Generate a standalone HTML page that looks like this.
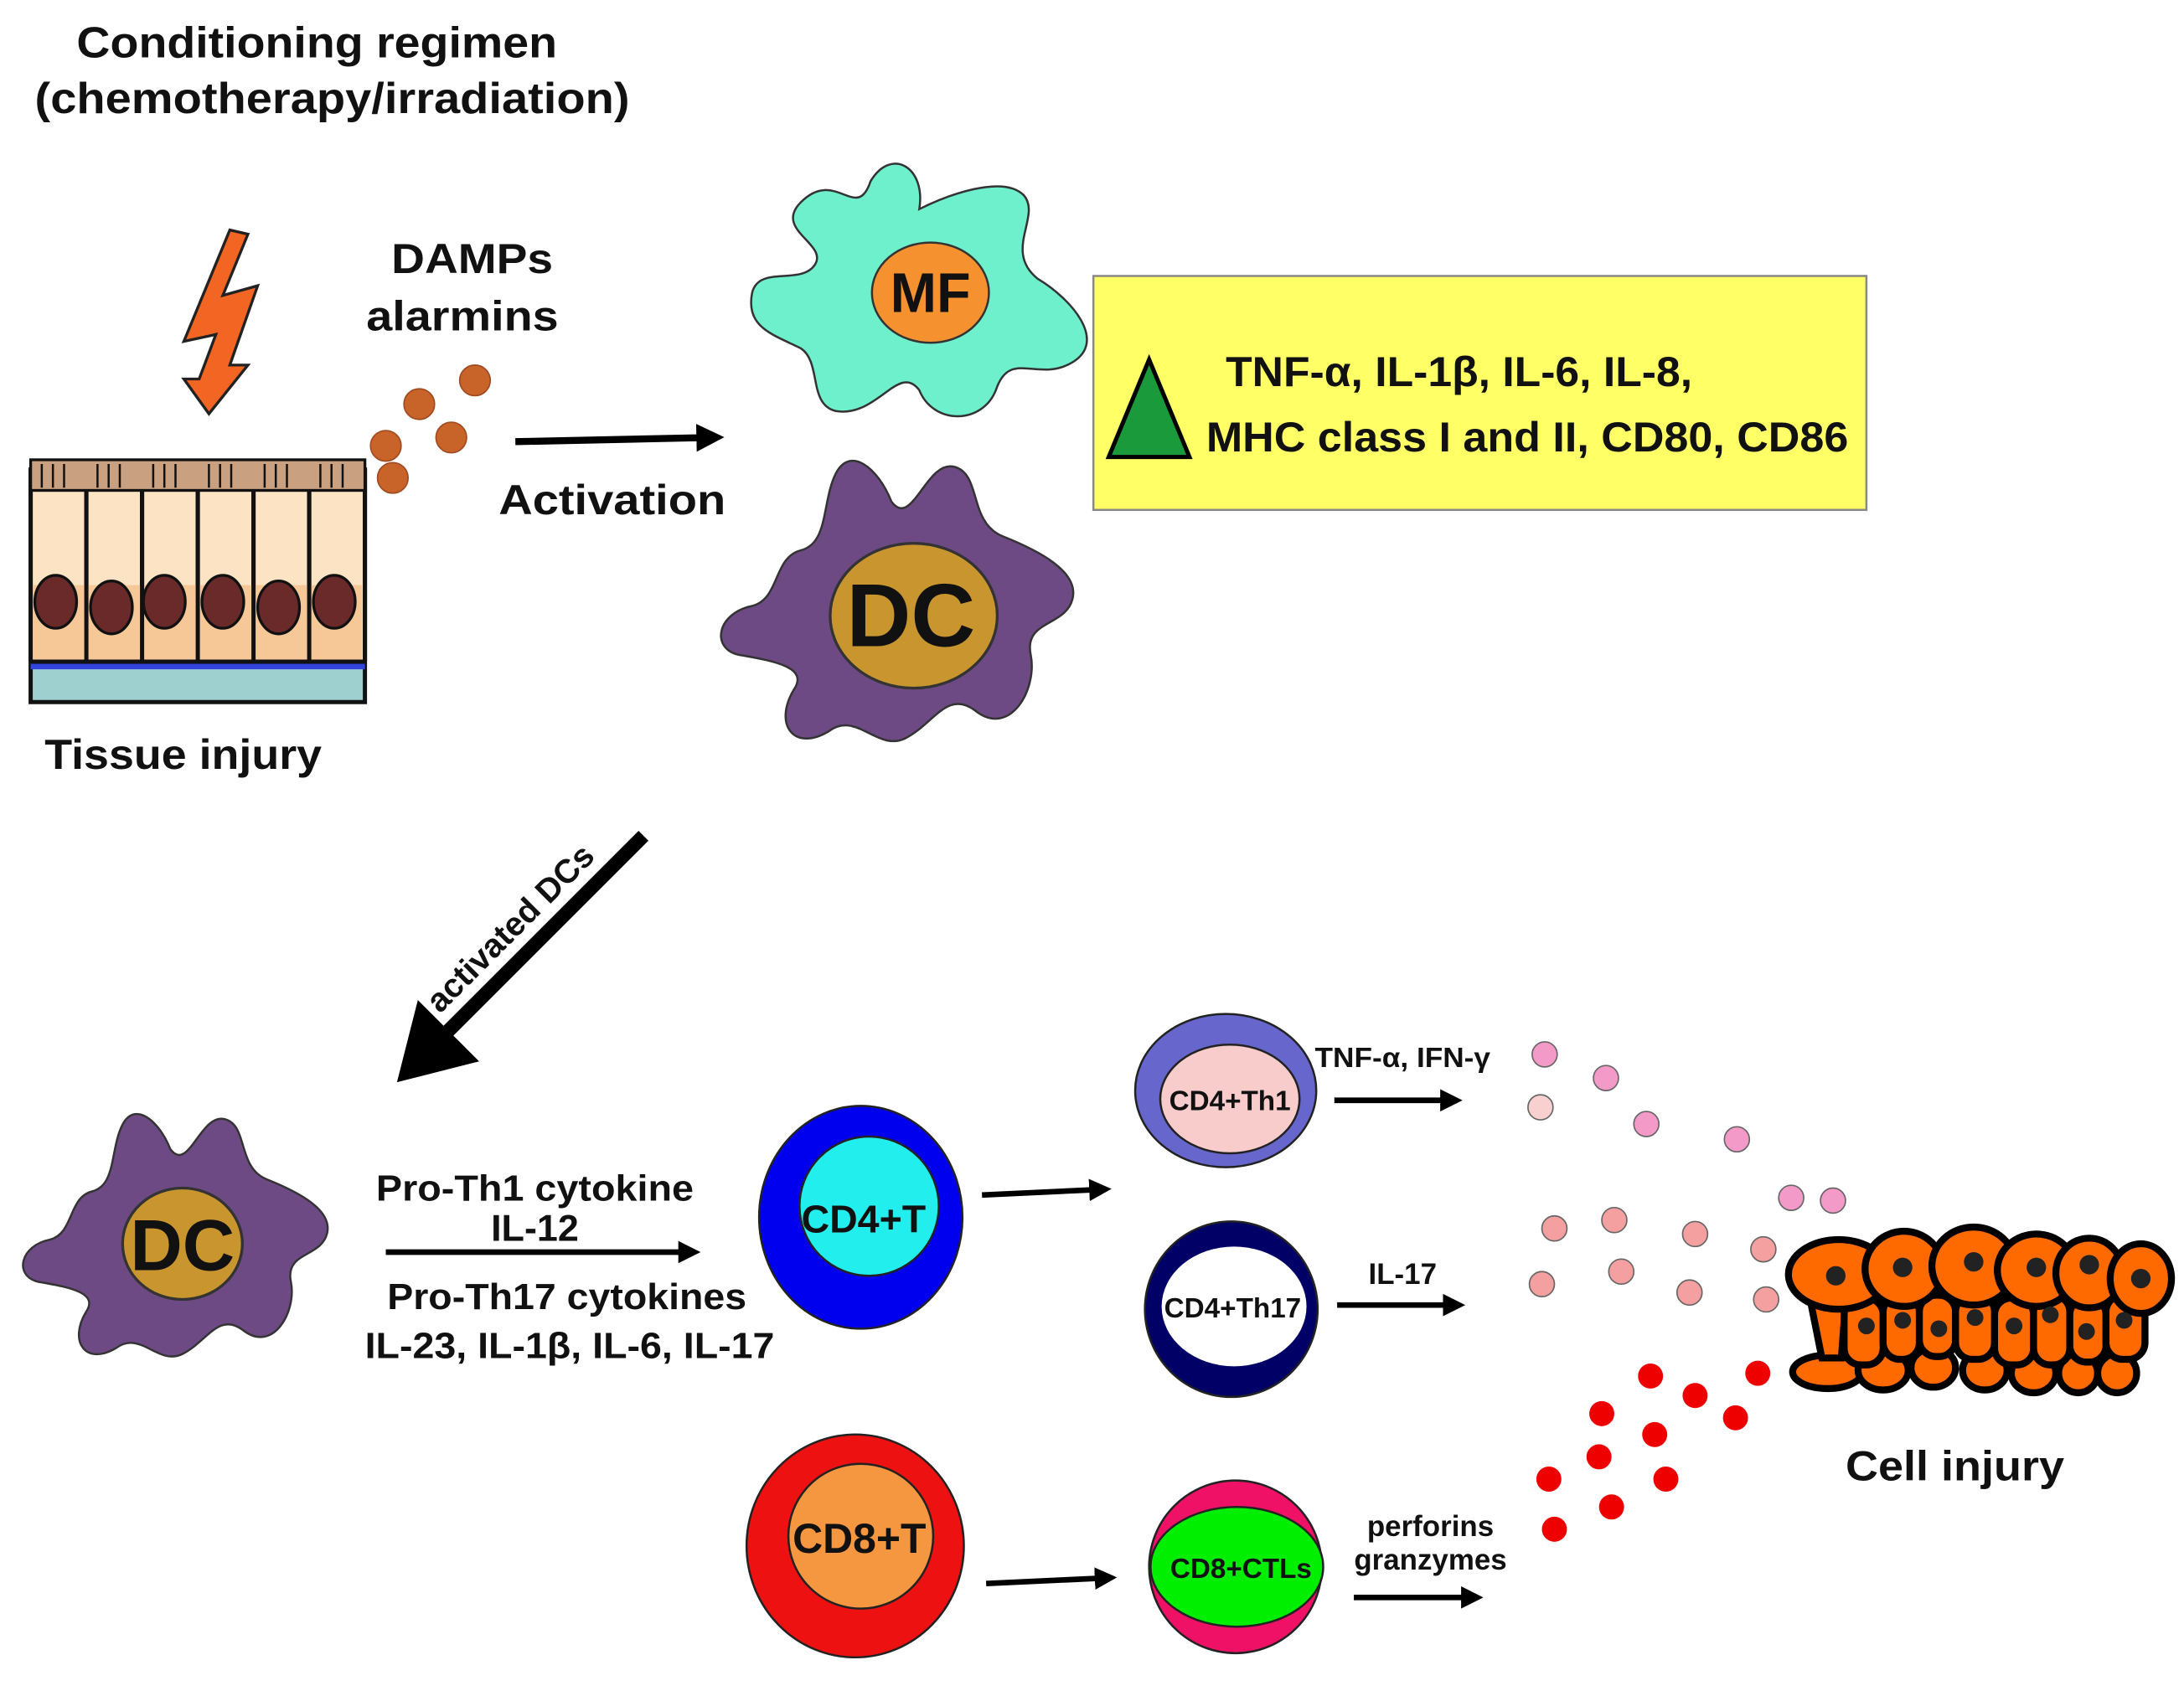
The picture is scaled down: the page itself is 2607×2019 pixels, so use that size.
<!DOCTYPE html>
<html><head><meta charset="utf-8"><style>html,body{margin:0;padding:0;background:#fff}svg{display:block}text{font-family:"Liberation Sans",Arial,sans-serif;font-weight:bold;fill:#111}</style></head>
<body>
<svg width="2607" height="2019" viewBox="0 0 1568 1214" xmlns="http://www.w3.org/2000/svg">
<defs>
<marker id="ah" markerWidth="4" markerHeight="4" refX="2" refY="2" orient="auto" markerUnits="strokeWidth"><path d="M0,0 L4,2 L0,4 Z" fill="#000"/></marker>
<path id="dcb" d="M600,340 C610,320 630,335 640,360 C655,380 665,330 685,335 C705,340 695,375 720,385 C745,395 775,410 770,430 C765,450 735,445 740,470 C745,495 725,530 700,510 C680,495 670,520 650,530 C630,540 615,510 595,525 C570,540 555,520 570,495 C580,480 560,475 530,470 C510,465 515,440 540,435 C560,430 555,400 575,395 C595,390 590,360 600,340 Z"/>
</defs>
<text x="55" y="41" font-size="31" textLength="345" lengthAdjust="spacingAndGlyphs">Conditioning regimen</text>
<text x="25" y="81" font-size="31" textLength="427" lengthAdjust="spacingAndGlyphs">(chemotherapy/irradiation)</text>
<path d="M165,165 L132,245 L155,240 L143,272 L132,272 L150,297 L178,262 L165,262 L185,205 L160,212 L178,168 Z" fill="#f26522" stroke="#222" stroke-width="2"/>
<text x="281" y="196" font-size="30" textLength="116" lengthAdjust="spacingAndGlyphs">DAMPs</text>
<text x="263" y="237" font-size="30" textLength="138" lengthAdjust="spacingAndGlyphs">alarmins</text>
<g fill="#c8642a" stroke="#a04a20" stroke-width="1"><circle cx="341" cy="273" r="11"/><circle cx="301" cy="290" r="11"/><circle cx="324" cy="314" r="11"/><circle cx="277" cy="320" r="11"/><circle cx="282" cy="343" r="11"/></g>
<!-- tissue -->
<g stroke="#111" stroke-width="3">
<rect x="22" y="478" width="240" height="26" fill="#9fd0d0"/>
<line x1="22" y1="478" x2="262" y2="478" stroke="#3344dd" stroke-width="5"/>
<g fill="#fbe3c4">
<rect x="22" y="337" width="40" height="138"/><rect x="62" y="337" width="40" height="138"/><rect x="102" y="337" width="40" height="138"/><rect x="142" y="337" width="40" height="138"/><rect x="182" y="337" width="40" height="138"/><rect x="222" y="337" width="40" height="138"/>
</g>
<g fill="#f6c898" stroke="none"><rect x="24" y="420" width="236" height="55"/></g>
<g fill="none" stroke-width="3"><path d="M22,337V475M62,337V475M102,337V475M142,337V475M182,337V475M222,337V475M262,337V475M22,475H262"/></g>
<g fill="#6b2a2a" stroke-width="2"><ellipse cx="40" cy="432" rx="15" ry="19"/><ellipse cx="80" cy="436" rx="15" ry="19"/><ellipse cx="118" cy="432" rx="15" ry="19"/><ellipse cx="160" cy="432" rx="15" ry="19"/><ellipse cx="200" cy="436" rx="15" ry="19"/><ellipse cx="240" cy="432" rx="15" ry="19"/></g>
<rect x="22" y="330" width="240" height="22" fill="#c9a080" stroke-width="2"/>
<path d="M30,333V350M38,333V350M46,333V350M70,333V350M78,333V350M86,333V350M110,333V350M118,333V350M126,333V350M150,333V350M158,333V350M166,333V350M190,333V350M198,333V350M206,333V350M230,333V350M238,333V350M246,333V350" stroke-width="1.5"/>
</g>
<text x="32" y="552" font-size="30" textLength="199" lengthAdjust="spacingAndGlyphs">Tissue injury</text>
<line x1="370" y1="317" x2="510" y2="314" stroke="#000" stroke-width="5" marker-end="url(#ah)"/>
<text x="358" y="369" font-size="30" textLength="163" lengthAdjust="spacingAndGlyphs">Activation</text>
<!-- MF -->
<path d="M575,145 C600,120 615,160 625,130 C640,105 665,120 660,150 C680,140 720,125 735,140 C748,155 720,180 745,200 C770,215 795,245 770,260 C745,275 725,250 715,280 C705,305 670,305 660,280 C645,260 630,300 600,295 C580,290 590,260 575,250 C555,240 535,235 540,210 C545,190 575,205 585,190 C595,175 555,165 575,145 Z" fill="#6ef0cc" stroke="#333" stroke-width="1.5"/>
<ellipse cx="668" cy="210" rx="42" ry="36" fill="#f5922f" stroke="#333" stroke-width="1.5"/>
<text x="668" y="224" font-size="40" text-anchor="middle">MF</text>
<!-- DC top -->
<use href="#dcb" fill="#6e4a84" stroke="#333" stroke-width="1.5"/>
<ellipse cx="656" cy="442" rx="60" ry="52" fill="#c9952f" stroke="#333" stroke-width="2"/>
<text x="654" y="464" font-size="64" text-anchor="middle">DC</text>
<!-- yellow box -->
<rect x="785" y="198" width="555" height="168" fill="#ffff66" stroke="#888" stroke-width="1.5"/>
<path d="M796,328 L825,258 L854,328 Z" fill="#1a9a3a" stroke="#000" stroke-width="3"/>
<text x="880" y="277" font-size="30" textLength="335" lengthAdjust="spacingAndGlyphs">TNF-α, IL-1β, IL-6, IL-8,</text>
<text x="866" y="324" font-size="30" textLength="461" lengthAdjust="spacingAndGlyphs">MHC class I and II, CD80, CD86</text>
<!-- activated DCs arrow -->
<line x1="462" y1="600" x2="312" y2="750" stroke="#000" stroke-width="10"/>
<path d="M285,777 L300,718 L344,762 Z" fill="#000"/>
<text x="0" y="0" font-size="24" text-anchor="middle" transform="translate(372,672) rotate(-45)">activated DCs</text>
<!-- DC bottom -->
<use href="#dcb" fill="#6e4a84" stroke="#333" stroke-width="1.7" transform="translate(131,890) scale(0.865) translate(-650,-435)"/>
<ellipse cx="131" cy="893" rx="43" ry="40" fill="#c9952f" stroke="#333" stroke-width="2"/>
<text x="131" y="912" font-size="52" text-anchor="middle">DC</text>
<text x="270" y="862" font-size="26" textLength="228" lengthAdjust="spacingAndGlyphs">Pro-Th1 cytokine</text>
<text x="384" y="891" font-size="27" text-anchor="middle">IL-12</text>
<line x1="277" y1="899" x2="495" y2="899" stroke="#000" stroke-width="4" marker-end="url(#ah)"/>
<text x="278" y="940" font-size="26" textLength="258" lengthAdjust="spacingAndGlyphs">Pro-Th17 cytokines</text>
<text x="262" y="975" font-size="26" textLength="294" lengthAdjust="spacingAndGlyphs">IL-23, IL-1β, IL-6, IL-17</text>
<!-- CD4+T -->
<ellipse cx="618" cy="874" rx="73" ry="80" fill="#0000ee" stroke="#222" stroke-width="1.5"/>
<ellipse cx="624" cy="866" rx="50" ry="50" fill="#22eeee" stroke="#222" stroke-width="1.5"/>
<text x="620" y="885" font-size="28" text-anchor="middle">CD4+T</text>
<line x1="705" y1="858" x2="790" y2="854" stroke="#000" stroke-width="4" marker-end="url(#ah)"/>
<!-- Th1 -->
<ellipse cx="880" cy="783" rx="65" ry="55" fill="#6666cc" stroke="#222" stroke-width="1.5"/>
<ellipse cx="883" cy="789" rx="50" ry="39" fill="#f9cccc" stroke="#222" stroke-width="1.5"/>
<text x="883" y="797" font-size="20" text-anchor="middle">CD4+Th1</text>
<line x1="958" y1="790" x2="1042" y2="790" stroke="#000" stroke-width="4" marker-end="url(#ah)"/>
<text x="944" y="766" font-size="20" textLength="126" lengthAdjust="spacingAndGlyphs">TNF-α, IFN-γ</text>
<!-- Th17 -->
<ellipse cx="884" cy="940" rx="62" ry="63" fill="#000066" stroke="#222" stroke-width="1.5"/>
<ellipse cx="886" cy="938" rx="52" ry="43" fill="#fff"/>
<text x="885" y="946" font-size="20" text-anchor="middle">CD4+Th17</text>
<line x1="960" y1="937" x2="1044" y2="937" stroke="#000" stroke-width="4" marker-end="url(#ah)"/>
<text x="1007" y="922" font-size="21" text-anchor="middle">IL-17</text>
<!-- CD8+T -->
<ellipse cx="614" cy="1110" rx="78" ry="80" fill="#ee1111" stroke="#222" stroke-width="1.5"/>
<ellipse cx="618" cy="1103" rx="52" ry="52" fill="#f59640" stroke="#222" stroke-width="1.5"/>
<text x="617" y="1115" font-size="30" text-anchor="middle">CD8+T</text>
<line x1="708" y1="1137" x2="794" y2="1133" stroke="#000" stroke-width="4" marker-end="url(#ah)"/>
<!-- CTL -->
<ellipse cx="887" cy="1125" rx="62" ry="62" fill="#ee1166" stroke="#222" stroke-width="1.5"/>
<ellipse cx="888" cy="1125" rx="62" ry="43" fill="#00ee00" stroke="#222" stroke-width="1.5"/>
<text x="891" y="1133" font-size="20" text-anchor="middle">CD8+CTLs</text>
<text x="1027" y="1103" font-size="21" text-anchor="middle">perforins</text>
<text x="1027" y="1127" font-size="21" text-anchor="middle">granzymes</text>
<line x1="972" y1="1147" x2="1057" y2="1147" stroke="#000" stroke-width="4" marker-end="url(#ah)"/>
<!-- dots -->
<g stroke="#666" stroke-width="1">
<g fill="#f49ac8"><circle cx="1109" cy="757" r="9"/><circle cx="1153" cy="774" r="9"/><circle cx="1182" cy="807" r="9"/><circle cx="1247" cy="818" r="9"/><circle cx="1286" cy="860" r="9"/><circle cx="1316" cy="862" r="9"/></g>
<circle cx="1106" cy="795" r="9" fill="#f9d0d0"/>
<g fill="#f4a0a0"><circle cx="1116" cy="882" r="9"/><circle cx="1159" cy="876" r="9"/><circle cx="1217" cy="886" r="9"/><circle cx="1266" cy="897" r="9"/><circle cx="1107" cy="922" r="9"/><circle cx="1164" cy="913" r="9"/><circle cx="1213" cy="928" r="9"/><circle cx="1268" cy="933" r="9"/></g>
</g>
<g fill="#ee0000"><circle cx="1185" cy="988" r="9"/><circle cx="1217" cy="1002" r="9"/><circle cx="1262" cy="986" r="9"/><circle cx="1150" cy="1015" r="9"/><circle cx="1188" cy="1030" r="9"/><circle cx="1246" cy="1018" r="9"/><circle cx="1148" cy="1046" r="9"/><circle cx="1196" cy="1062" r="9"/><circle cx="1112" cy="1062" r="9"/><circle cx="1157" cy="1082" r="9"/><circle cx="1116" cy="1098" r="9"/></g>
<!-- cell injury tissue -->
<g fill="#ff6a00" stroke="#000" stroke-width="5">
<ellipse cx="1312" cy="985" rx="25" ry="12"/><ellipse cx="1352" cy="984" rx="18" ry="14"/><ellipse cx="1388" cy="982" rx="16" ry="14"/><ellipse cx="1425" cy="984" rx="16" ry="14"/><ellipse cx="1460" cy="986" rx="16" ry="14"/><ellipse cx="1492" cy="986" rx="14" ry="14"/><ellipse cx="1520" cy="986" rx="14" ry="14"/>
<path d="M1300,935 L1325,935 L1322,975 L1308,975 Z"/>
<rect x="1324" y="932" width="28" height="48" rx="12"/><rect x="1352" y="930" width="26" height="46" rx="12"/><rect x="1378" y="930" width="26" height="44" rx="12"/><rect x="1404" y="930" width="28" height="46" rx="12"/><rect x="1432" y="932" width="28" height="48" rx="12"/><rect x="1460" y="930" width="26" height="50" rx="12"/><rect x="1486" y="932" width="26" height="46" rx="12"/><rect x="1512" y="930" width="28" height="46" rx="12"/>
<ellipse cx="1320" cy="915" rx="36" ry="25"/><ellipse cx="1367" cy="911" rx="28" ry="27"/><ellipse cx="1417" cy="909" rx="30" ry="28"/><ellipse cx="1462" cy="912" rx="28" ry="26"/><ellipse cx="1500" cy="914" rx="24" ry="25"/><ellipse cx="1537" cy="918" rx="22" ry="25"/>
</g>
<g fill="#222"><circle cx="1318" cy="916" r="7"/><circle cx="1366" cy="910" r="7"/><circle cx="1417" cy="906" r="7"/><circle cx="1462" cy="910" r="7"/><circle cx="1500" cy="908" r="7"/><circle cx="1537" cy="918" r="7"/><circle cx="1340" cy="952" r="6"/><circle cx="1366" cy="948" r="6"/><circle cx="1392" cy="954" r="6"/><circle cx="1418" cy="946" r="6"/><circle cx="1446" cy="952" r="6"/><circle cx="1472" cy="944" r="6"/><circle cx="1498" cy="956" r="6"/><circle cx="1525" cy="948" r="6"/></g>
<text x="1325" y="1063" font-size="30" textLength="157" lengthAdjust="spacingAndGlyphs">Cell injury</text>
</svg>
</body></html>
